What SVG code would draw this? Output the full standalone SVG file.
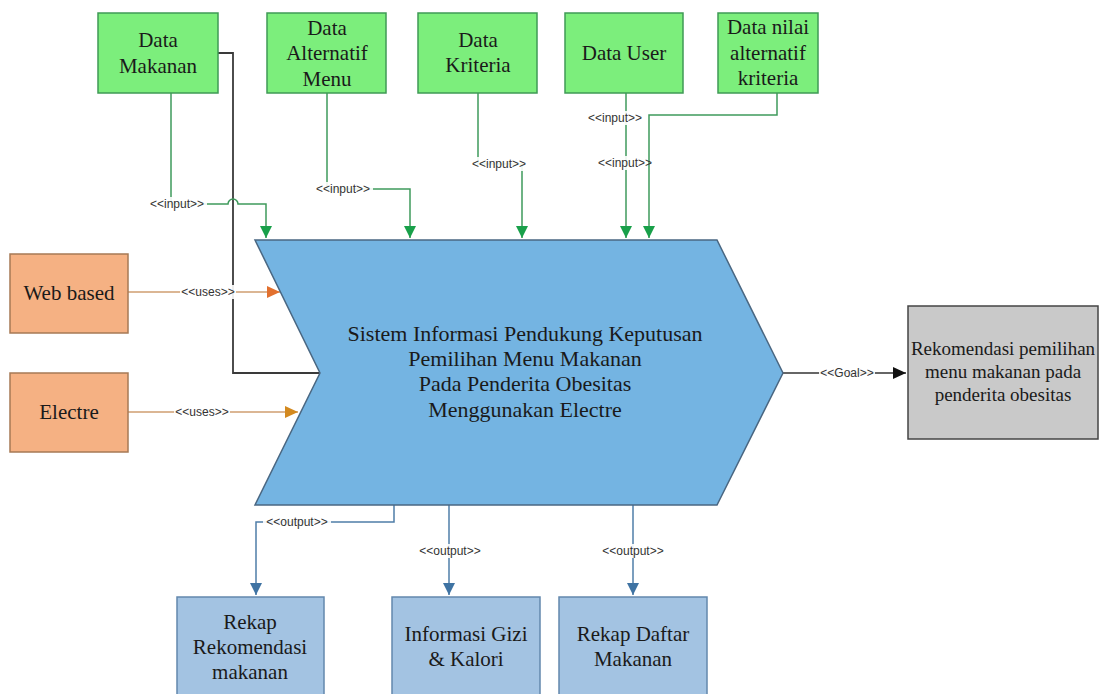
<svg xmlns="http://www.w3.org/2000/svg" width="1099" height="694" viewBox="0 0 1099 694">
<style>
.lbl{font-family:"Liberation Sans",Arial,sans-serif;font-size:12px;fill:#333;text-anchor:middle}
.lbg{fill:#fff;opacity:0.9}
.green{fill:#7cee7c;stroke:#3f9a55;stroke-width:1.5}
.orange{fill:#f5b183;stroke:#a67a55;stroke-width:1.5}
.gray{fill:#c9c9c9;stroke:#444;stroke-width:1.5}
.outbox{fill:#a3c3e2;stroke:#6388ad;stroke-width:1.5}
.gl{fill:none;stroke:#3f9a5c;stroke-width:1.5}
.ol{fill:none;stroke:#cf9e70;stroke-width:1.5}
.bl{fill:none;stroke:#3a3a3a;stroke-width:1.8}
.kl{fill:none;stroke:#333;stroke-width:1.5}
.ul{fill:none;stroke:#4f7ea8;stroke-width:1.5}
</style>
<defs>
<marker id="ag" markerUnits="userSpaceOnUse" markerWidth="12" markerHeight="14" refX="12" refY="6" orient="auto"><path d="M0,0 L12,6 L0,12 z" fill="#19a04a"/></marker>
<marker id="ao1" markerUnits="userSpaceOnUse" markerWidth="14" markerHeight="12" refX="13" refY="6" orient="auto"><path d="M0,0 L13,6 L0,12 z" fill="#e2702e"/></marker>
<marker id="ao2" markerUnits="userSpaceOnUse" markerWidth="14" markerHeight="12" refX="13" refY="6" orient="auto"><path d="M0,0 L13,6 L0,12 z" fill="#d3891f"/></marker>
<marker id="ak" markerUnits="userSpaceOnUse" markerWidth="14" markerHeight="12" refX="13" refY="6" orient="auto"><path d="M0,0 L13,6 L0,12 z" fill="#111"/></marker>
<marker id="au" markerUnits="userSpaceOnUse" markerWidth="12" markerHeight="14" refX="12" refY="6" orient="auto"><path d="M0,0 L12,6 L0,12 z" fill="#3f73a3"/></marker>
</defs>
<rect width="1099" height="694" fill="#fff"/>

<g id="connectors">
<path class="bl" d="M218,53 H233 V373 H320"/>
<path class="gl" d="M171,93 V204 H228 A5,5 0 0 1 238,204 H266 V238" marker-end="url(#ag)"/>
<path class="gl" d="M327,93 V189 H410 V238" marker-end="url(#ag)"/>
<path class="gl" d="M478,93 V164 H522 V238" marker-end="url(#ag)"/>
<path class="gl" d="M626,93 V238" marker-end="url(#ag)"/>
<path class="gl" d="M777,93 V115 H649 V238" marker-end="url(#ag)"/>
<path class="ol" d="M128,292 H280" marker-end="url(#ao1)"/>
<path class="ol" d="M128,412 H298" marker-end="url(#ao2)"/>
<path class="kl" d="M783,373 H906" marker-end="url(#ak)"/>
<path class="ul" d="M394,505 V522 H256 V595" marker-end="url(#au)"/>
<path class="ul" d="M449,505 V595" marker-end="url(#au)"/>
<path class="ul" d="M633,505 V595" marker-end="url(#au)"/>

<rect class="lbg" x="147" y="197" width="60" height="14"/><text class="lbl" x="177" y="208">&lt;&lt;input&gt;&gt;</text>
<rect class="lbg" x="313" y="182" width="60" height="14"/><text class="lbl" x="343" y="193">&lt;&lt;input&gt;&gt;</text>
<rect class="lbg" x="469" y="157" width="60" height="14"/><text class="lbl" x="499" y="168">&lt;&lt;input&gt;&gt;</text>
<rect class="lbg" x="585" y="111" width="60" height="14"/><text class="lbl" x="615" y="122">&lt;&lt;input&gt;&gt;</text>
<rect class="lbg" x="596" y="156" width="52" height="14"/><text class="lbl" x="625" y="167">&lt;&lt;input&gt;&gt;</text>
<rect class="lbg" x="180" y="285" width="56" height="14"/><text class="lbl" x="208" y="296">&lt;&lt;uses&gt;&gt;</text>
<rect class="lbg" x="174" y="405" width="56" height="14"/><text class="lbl" x="202" y="416">&lt;&lt;uses&gt;&gt;</text>
<rect class="lbg" x="819" y="366" width="56" height="14"/><text class="lbl" x="847" y="377">&lt;&lt;Goal&gt;&gt;</text>
<rect class="lbg" x="263" y="515" width="68" height="14"/><text class="lbl" x="297" y="526">&lt;&lt;output&gt;&gt;</text>
<rect class="lbg" x="416" y="544" width="68" height="14"/><text class="lbl" x="450" y="555">&lt;&lt;output&gt;&gt;</text>
<rect class="lbg" x="599" y="544" width="68" height="14"/><text class="lbl" x="633" y="555">&lt;&lt;output&gt;&gt;</text>
</g>

<g font-family="Liberation Serif, Times New Roman, serif" fill="#1a1a1a" text-anchor="middle">
<g id="sistem" font-size="22">
<polygon points="255,240 717,240 783,373 717,505 255,505 320,373" fill="#74b4e2" stroke="#4a6782" stroke-width="1.5"/>
<text x="525" y="341">Sistem Informasi Pendukung Keputusan</text>
<text x="525" y="366">Pemilihan Menu Makanan</text>
<text x="525" y="391">Pada Penderita Obesitas</text>
<text x="525" y="417">Menggunakan Electre</text>
</g>

<g id="data-makanan" font-size="21">
<rect class="green" x="98" y="13" width="120" height="80"/>
<text x="158" y="47">Data</text>
<text x="158" y="73">Makanan</text>
</g>
<g id="data-alternatif-menu" font-size="21">
<rect class="green" x="267" y="13" width="119" height="80"/>
<text x="327" y="35">Data</text>
<text x="327" y="60">Alternatif</text>
<text x="327" y="86">Menu</text>
</g>
<g id="data-kriteria" font-size="21">
<rect class="green" x="418" y="13" width="119" height="80"/>
<text x="478" y="47">Data</text>
<text x="478" y="72">Kriteria</text>
</g>
<g id="data-user" font-size="21">
<rect class="green" x="565" y="13" width="118" height="80"/>
<text x="624" y="60">Data User</text>
</g>
<g id="data-nilai" font-size="21">
<rect class="green" x="718" y="13" width="100" height="80"/>
<text x="768" y="34">Data nilai</text>
<text x="768" y="60">alternatif</text>
<text x="768" y="85">kriteria</text>
</g>

<g id="web-based" font-size="21">
<rect class="orange" x="10" y="254" width="118" height="79"/>
<text x="69" y="300">Web based</text>
</g>
<g id="electre" font-size="21">
<rect class="orange" x="10" y="373" width="118" height="79"/>
<text x="69" y="419">Electre</text>
</g>

<g id="goal" font-size="19">
<rect class="gray" x="908" y="306" width="190" height="133"/>
<text x="1003" y="355">Rekomendasi pemilihan</text>
<text x="1003" y="378">menu makanan pada</text>
<text x="1003" y="401">penderita obesitas</text>
</g>

<g id="rekap-rekomendasi" font-size="21">
<rect class="outbox" x="177" y="597" width="147" height="110"/>
<text x="250" y="629">Rekap</text>
<text x="250" y="654">Rekomendasi</text>
<text x="250" y="679">makanan</text>
</g>
<g id="informasi-gizi" font-size="21">
<rect class="outbox" x="392" y="597" width="148" height="110"/>
<text x="466" y="641">Informasi Gizi</text>
<text x="466" y="666">&amp; Kalori</text>
</g>
<g id="rekap-daftar" font-size="21">
<rect class="outbox" x="559" y="597" width="148" height="110"/>
<text x="633" y="641">Rekap Daftar</text>
<text x="633" y="666">Makanan</text>
</g>
</g>
</svg>
